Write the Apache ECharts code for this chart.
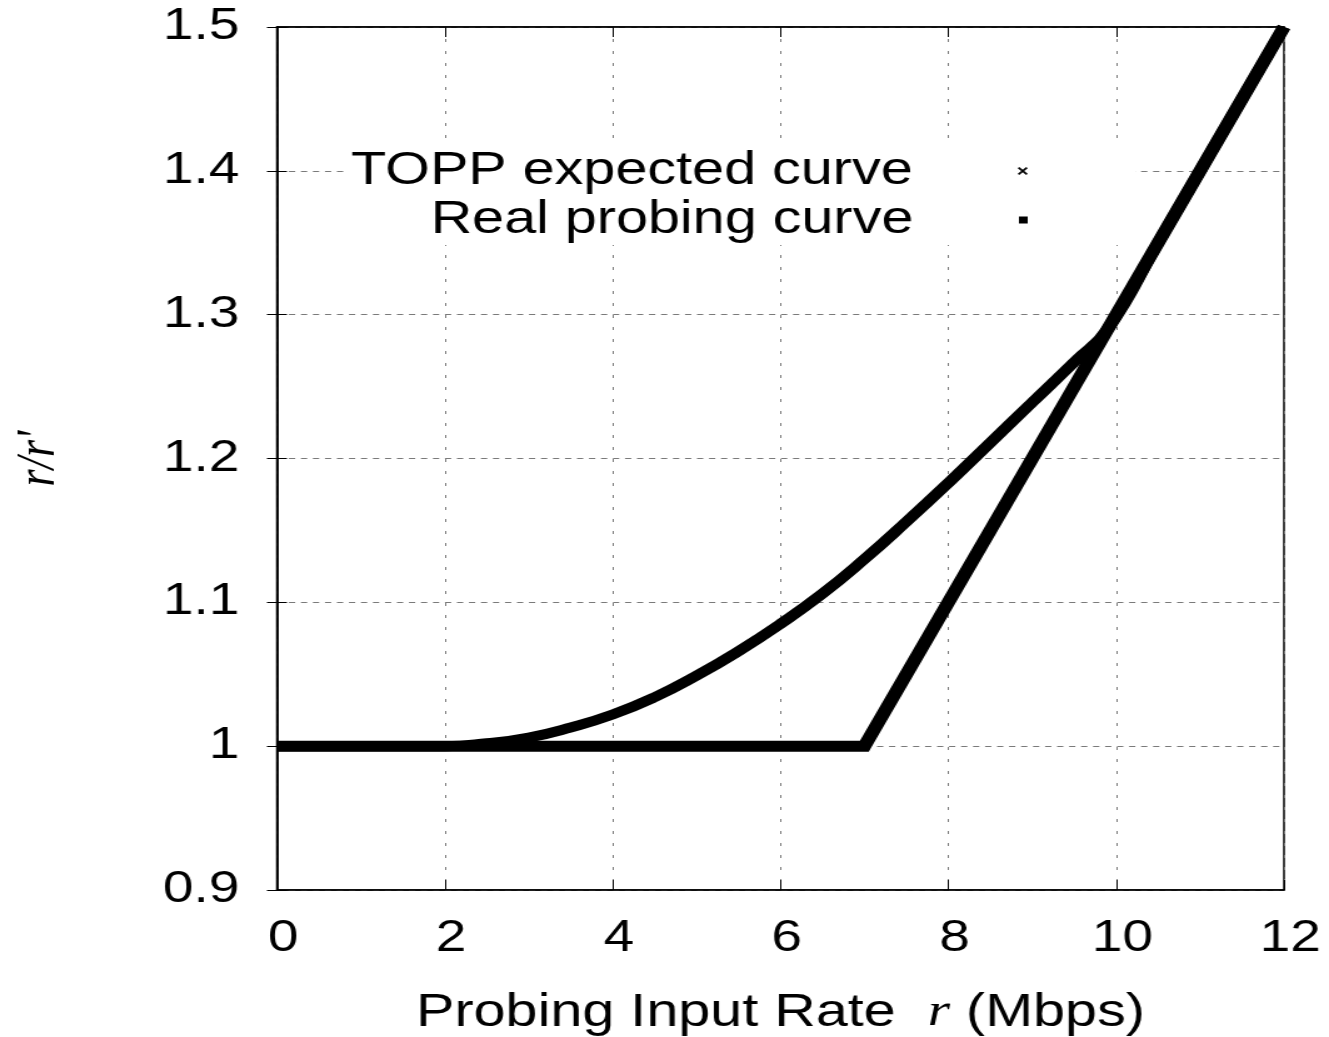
<!DOCTYPE html>
<html><head><meta charset="utf-8">
<script src="https://cdn.jsdelivr.net/npm/echarts@6/dist/echarts.min.js"></script>
<style>
html,body{margin:0;padding:0;background:#fff;overflow:hidden;width:1329px;height:1037px}
#chart{width:1063px;height:1037px;transform:scaleX(1.25024);transform-origin:0 0;}
</style>
</head><body><div id="chart"></div>
<script>
// ---- data ----
const xTicks = [0, 2, 4, 6, 8, 10, 12];
const yTicks = [0.9, 1.0, 1.1, 1.2, 1.3, 1.4, 1.5];
const seriesNames = ['TOPP expected curve', 'Real probing curve'];

const toppX = [0, 7, 12];
const toppY = [1.0, 1.0, 1.5];

const realX = [0, 0.5, 1, 1.5, 2, 2.5, 3, 3.5, 4, 4.5, 5, 5.5, 6, 6.5, 7, 7.5, 8, 8.5, 9, 9.5, 9.9, 10.5, 11, 11.5, 12];
const realY = [1.0, 1.0, 1.0, 1.0, 1.0, 1.002, 1.006, 1.013, 1.022, 1.034, 1.049, 1.066, 1.085, 1.106, 1.130, 1.156, 1.183, 1.211, 1.239, 1.267, 1.290, 1.350, 1.400, 1.450, 1.500];

const xLabel = 'Probing Input Rate';
const xUnit = '(Mbps)';
const yLabel = "r/r'";

// ---- chart ----
const pairs = (xs, ys) => xs.map((x, i) => [x, ys[i]]);
const SANS = 'Liberation Sans';
const SERIF = 'Liberation Serif';
const crossIcon = 'path://M0,1.5L1.5,0L5,3.5L8.5,0L10,1.5L6.5,5L10,8.5L8.5,10L5,6.5L1.5,10L0,8.5L3.5,5Z';

const chart = echarts.init(document.getElementById('chart'), null, {renderer: 'canvas'});
const fmtY = v => String(parseFloat(Number(v).toFixed(1)));

const option = {
  animation: false,
  backgroundColor: '#fff',
  grid: {
    left: 221.5, right: 36, top: 27, bottom: 147,
    show: true, borderColor: '#000', borderWidth: 1.5,
    outerBoundsMode: 'none', containLabel: false
  },
  legend: [
    {
      data: [{name: seriesNames[0], icon: crossIcon}],
      orient: 'vertical', align: 'right', right: 155, top: 146,
      padding: [2, 86, 2, 3], backgroundColor: '#fff',
      itemWidth: 8, itemHeight: 8, selectedMode: false,
      itemStyle: {color: '#000', borderWidth: 0},
      textStyle: {fontFamily: SANS, fontSize: 46, color: '#000', padding: [0, 79, 0, 0]}
    },
    {
      data: [{name: seriesNames[1], icon: 'rect'}],
      orient: 'vertical', align: 'right', right: 155, top: 196,
      padding: [1, 86, 2, 3], backgroundColor: '#fff',
      itemWidth: 7, itemHeight: 7, selectedMode: false,
      itemStyle: {color: '#000', borderWidth: 0},
      textStyle: {fontFamily: SANS, fontSize: 46, color: '#000', padding: [0, 79.5, 0, 0]}
    }
  ],
  xAxis: [
    {
      type: 'value', min: xTicks[0], max: xTicks[xTicks.length - 1], interval: 2,
      position: 'bottom',
      axisLine: {show: true, lineStyle: {color: '#000', width: 1.5}},
      axisTick: {show: true, inside: true, length: 10, lineStyle: {color: '#000'}},
      axisLabel: {
        margin: 27, fontFamily: SANS, fontSize: 44, color: '#000',
        padding: [0, 0, 0, 10], formatter: v => String(v)
      },
      splitLine: {show: true, lineStyle: {color: '#7a7a7a', width: 1, type: [3, 9]}},
      name: '{t|' + xLabel + '  }{i|r}{t| ' + xUnit + '}',
      nameLocation: 'middle', nameGap: 100,
      nameTextStyle: {
        rich: {
          t: {fontFamily: SANS, fontSize: 46, color: '#000'},
          i: {fontFamily: SERIF, fontStyle: 'italic', fontSize: 46, color: '#000'}
        }
      }
    },
    {
      type: 'value', min: xTicks[0], max: xTicks[xTicks.length - 1], interval: 2,
      position: 'top',
      axisLine: {show: true, lineStyle: {color: '#000', width: 1.5}},
      axisTick: {show: true, inside: true, length: 10, lineStyle: {color: '#000'}},
      axisLabel: {show: false},
      splitLine: {show: false}
    }
  ],
  yAxis: [
    {
      type: 'value', min: yTicks[0], max: yTicks[yTicks.length - 1], interval: 0.1,
      position: 'left',
      axisLine: {show: true, lineStyle: {color: '#000', width: 1.5}},
      axisTick: {show: true, inside: true, length: 8, lineStyle: {color: '#000'}},
      axisLabel: {margin: 30, fontFamily: SANS, fontSize: 44, color: '#000', formatter: fmtY},
      splitLine: {show: true, lineStyle: {color: '#7a7a7a', width: 1, type: [5, 4.6]}},
      name: yLabel, nameLocation: 'middle', nameRotate: 90, nameGap: 168,
      nameTextStyle: {fontFamily: SERIF, fontStyle: 'italic', fontSize: 44, color: '#000'}
    },
    {
      type: 'value', min: yTicks[0], max: yTicks[yTicks.length - 1], interval: 0.1,
      position: 'right',
      axisLine: {show: true, lineStyle: {color: '#000', width: 1.5}},
      axisTick: {show: true, inside: true, length: 8, lineStyle: {color: '#000'}},
      axisLabel: {show: false},
      splitLine: {show: false}
    }
  ],
  series: [
    {
      name: seriesNames[0], type: 'line', xAxisIndex: 0, yAxisIndex: 0,
      data: pairs(toppX, toppY), showSymbol: false, symbol: 'none', clip: false,
      lineStyle: {color: '#000', width: 11, join: 'miter'},
      itemStyle: {color: '#000'}, z: 3
    },
    {
      name: seriesNames[1], type: 'line', xAxisIndex: 0, yAxisIndex: 0,
      data: pairs(realX, realY), showSymbol: false, symbol: 'none', clip: false,
      smooth: 0.5,
      lineStyle: {color: '#000', width: 10},
      itemStyle: {color: '#000'}, z: 2
    }
  ]
};
chart.setOption(option);
</script>
</body></html>
